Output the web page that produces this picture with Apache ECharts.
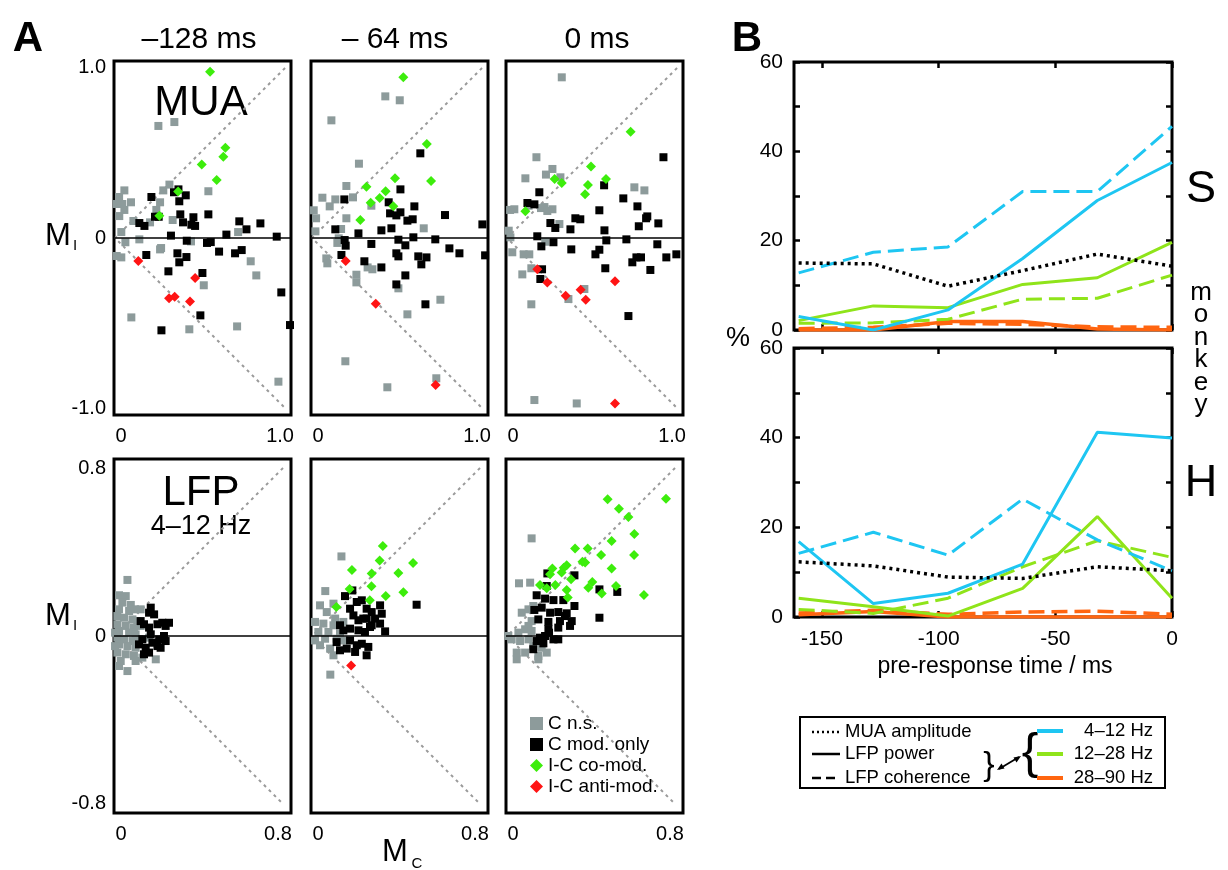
<!DOCTYPE html>
<html><head><meta charset="utf-8">
<script src="https://cdn.jsdelivr.net/npm/echarts@6/dist/echarts.min.js"></script>
<style>html,body{margin:0;padding:0;background:#fff}#c{width:1228px;height:870px}</style>
</head><body><div id="c"></div>
<script>
const FONT = '"Liberation Sans", Arial, Helvetica, sans-serif';
const C_NS = '#8d9b9b', C_MOD = '#000000', C_CO = '#3ded0c', C_ANTI = '#ff1414';
const CYAN = '#1ec6f2', LIME = '#8fe41a', ORANGE = '#ff6510';

const columnTitles = ['\u2013128 ms', '\u2013 64 ms', '0 ms'];
const legendNames = ['C n.s.', 'C mod. only', 'I-C co-mod.', 'I-C anti-mod.'];

// ---------- Panel A: MUA, -128 ms ----------
const mua128_ns = [[0.255,0.659],[0.349,0.682],[0.055,0.280],[0.024,0.241],[0.010,0.200],[0.043,0.200],[0.094,0.210],[0.055,0.165],[0.025,0.129],[0.108,0.100],[0.206,0.092],[0.339,0.106],[0.265,0.210],[0.243,0.165],[0.284,0.280],[0.320,0.314],[0.549,0.275],[0.037,0.035],[0.061,-0.025],[0.143,-0.008],[0.271,-0.059],[0.265,-0.067],[0.010,-0.106],[0.037,-0.114],[0.447,-0.020],[0.724,0.035],[0.798,-0.137],[0.831,-0.220],[0.522,-0.278],[0.096,-0.467],[0.437,-0.537],[0.718,-0.520],[0.961,-0.845]];
const mua128_mod = [[0.214,0.241],[0.347,0.269],[0.373,0.286],[0.416,0.251],[0.378,0.216],[0.384,0.139],[0.400,0.092],[0.461,0.122],[0.449,0.078],[0.471,0.071],[0.549,0.139],[0.235,0.125],[0.257,0.125],[0.143,0.088],[0.173,0.071],[0.329,0.014],[0.422,-0.016],[0.541,-0.029],[0.563,-0.024],[0.655,0.020],[0.731,0.098],[0.773,0.051],[0.855,0.086],[0.951,0.008],[0.184,-0.100],[0.367,-0.090],[0.420,-0.112],[0.378,-0.143],[0.612,-0.080],[0.706,-0.090],[0.745,-0.071],[0.314,-0.196],[0.514,-0.206],[0.978,-0.320],[1.029,-0.512],[0.502,-0.455],[0.273,-0.543]];
const mua128_co = [[0.559,0.978],[0.649,0.531],[0.637,0.478],[0.510,0.433],[0.598,0.341],[0.371,0.273],[0.261,0.131]];
const mua128_anti = [[0.137,-0.135],[0.471,-0.235],[0.318,-0.355],[0.351,-0.345],[0.441,-0.373]];

// ---------- Panel A: MUA, -64 ms ----------
const mua64_ns = [[0.431,0.833],[0.516,0.810],[0.114,0.692],[0.276,0.437],[0.202,0.306],[0.061,0.237],[0.137,0.227],[0.241,0.239],[0.104,0.186],[0.349,0.190],[0.010,0.163],[0.024,0.116],[0.202,0.116],[0.657,0.057],[0.171,0.053],[0.020,0.039],[0.157,-0.002],[0.149,-0.029],[0.084,-0.120],[0.090,-0.149],[0.327,-0.173],[0.355,-0.184],[0.261,-0.216],[0.261,-0.261],[0.508,-0.296],[0.755,-0.363],[0.561,-0.449],[0.196,-0.725],[0.443,-0.878],[0.731,-0.825]];
const mua64_mod = [[0.637,0.498],[0.520,0.286],[0.190,0.227],[0.451,0.210],[0.602,0.186],[0.459,0.145],[0.496,0.133],[0.520,0.151],[0.561,0.102],[0.592,0.110],[0.782,0.135],[1.002,0.080],[0.137,0.051],[0.273,0.027],[0.408,0.045],[0.467,0.057],[0.192,-0.012],[0.198,-0.045],[0.349,-0.035],[0.508,-0.010],[0.549,-0.043],[0.596,0.004],[0.725,-0.008],[0.808,-0.061],[0.867,-0.090],[1.018,-0.102],[0.173,-0.100],[0.308,-0.137],[0.496,-0.090],[0.508,-0.108],[0.625,-0.108],[0.673,-0.114],[0.643,-0.155],[0.408,-0.173],[0.549,-0.220],[0.496,-0.273],[0.667,-0.390]];
const mua64_co = [[0.537,0.945],[0.675,0.553],[0.488,0.351],[0.700,0.335],[0.320,0.302],[0.433,0.275],[0.398,0.235],[0.345,0.208],[0.478,0.186],[0.284,0.106]];
const mua64_anti = [[0.198,-0.135],[0.375,-0.386],[0.727,-0.865]];

// ---------- Panel A: MUA, 0 ms ----------
const mua0_ns = [[0.322,0.945],[0.173,0.475],[0.267,0.406],[0.229,0.373],[0.314,0.357],[0.108,0.351],[0.018,0.165],[0.043,0.169],[0.127,0.190],[0.200,0.176],[0.220,0.182],[0.267,0.169],[0.237,0.159],[0.308,0.082],[0.010,0.043],[0.020,0.004],[0.225,-0.022],[0.031,-0.084],[0.098,-0.096],[0.131,-0.096],[0.143,-0.178],[0.090,-0.214],[0.749,0.298],[0.808,0.280],[0.455,-0.300],[0.361,-0.359],[0.143,-0.390],[0.161,-0.953],[0.410,-0.973]];
const mua0_mod = [[0.920,0.475],[0.571,0.310],[0.190,0.269],[0.120,0.206],[0.161,0.198],[0.684,0.233],[0.767,0.186],[0.543,0.163],[0.825,0.127],[0.818,0.116],[0.890,0.086],[0.775,0.069],[0.255,0.088],[0.284,0.059],[0.402,0.116],[0.431,0.110],[0.373,0.051],[0.573,0.045],[0.178,0.010],[0.273,-0.025],[0.202,-0.049],[0.378,-0.067],[0.584,-0.014],[0.702,-0.008],[0.543,-0.069],[0.520,-0.096],[0.884,-0.037],[0.996,-0.096],[0.761,-0.114],[0.788,-0.114],[0.937,-0.114],[0.737,-0.143],[0.843,-0.188],[0.578,-0.178],[0.206,-0.184],[0.196,-0.241],[0.714,-0.459]];
const mua0_co = [[0.727,0.625],[0.494,0.420],[0.582,0.347],[0.476,0.312],[0.459,0.257],[0.280,0.347],[0.322,0.324],[0.108,0.157]];
const mua0_anti = [[0.178,-0.184],[0.237,-0.261],[0.345,-0.339],[0.433,-0.304],[0.463,-0.363],[0.635,-0.255],[0.635,-0.973]];

// ---------- Panel A: LFP 4-12 Hz, -128 ms ----------
const lfp128_ns = [[0.059,0.267],[0.019,0.194],[0.051,0.190],[0.075,0.148],[0.019,0.127],[0.067,0.119],[0.095,0.127],[0.011,0.095],[0.043,0.087],[0.083,0.079],[0.106,0.071],[0.011,0.056],[0.051,0.048],[0.090,0.040],[0.019,0.024],[0.067,0.016],[0.098,0.008],[0.011,-0.008],[0.043,-0.016],[0.083,-0.024],[0.019,-0.040],[0.059,-0.048],[0.098,-0.056],[0.011,-0.079],[0.051,-0.087],[0.090,-0.095],[0.130,-0.103],[0.027,-0.119],[0.098,-0.119],[0.194,-0.111],[0.019,-0.143],[0.059,-0.167],[0.162,-0.008],[0.114,-0.016],[0.0,0.016],[0.0,-0.048],[0.122,0.127],[0.035,0.159],[0.122,0.048]];
const lfp128_mod = [[0.170,0.135],[0.162,0.111],[0.186,0.103],[0.257,0.063],[0.241,0.048],[0.122,0.071],[0.138,0.056],[0.162,0.040],[0.202,0.056],[0.225,0.063],[0.233,0.0],[0.210,-0.016],[0.170,0.008],[0.130,-0.016],[0.178,-0.032],[0.114,-0.040],[0.146,-0.056],[0.202,-0.048],[0.241,-0.024],[0.162,-0.079],[0.138,-0.087],[0.217,-0.056]];
const lfp128_co = [];
const lfp128_anti = [];

// ---------- Panel A: LFP 4-12 Hz, -64 ms ----------
const lfp64_ns = [[0.140,0.379],[0.063,0.214],[0.038,0.146],[0.070,0.114],[0.102,0.154],[0.110,0.083],[0.014,0.067],[0.054,0.059],[0.102,0.051],[0.030,0.019],[0.078,0.019],[0.133,0.011],[0.014,-0.021],[0.062,-0.013],[0.117,-0.013],[0.149,-0.021],[0.086,-0.060],[0.102,-0.092],[0.087,-0.184],[0.038,-0.044],[0.149,0.067]];
const lfp64_mod = [[0.157,0.190],[0.192,0.217],[0.213,0.162],[0.237,0.170],[0.260,0.130],[0.284,0.114],[0.324,0.146],[0.332,0.106],[0.181,0.130],[0.197,0.098],[0.221,0.075],[0.260,0.083],[0.284,0.051],[0.324,0.059],[0.348,0.022],[0.133,0.051],[0.149,0.027],[0.181,0.035],[0.221,0.027],[0.252,0.019],[0.276,0.043],[0.498,0.149],[0.181,-0.021],[0.213,-0.044],[0.237,-0.037],[0.268,-0.052],[0.133,-0.068],[0.165,-0.060],[0.205,-0.076],[0.260,-0.092],[0.117,-0.029],[0.244,0.083],[0.300,0.083]];
const lfp64_co = [[0.337,0.429],[0.322,0.359],[0.190,0.314],[0.284,0.298],[0.411,0.300],[0.481,0.348],[0.283,0.237],[0.179,0.224],[0.351,0.190],[0.435,0.208],[0.275,0.170],[0.116,0.138]];
const lfp64_anti = [[0.186,-0.141]];

// ---------- Panel A: LFP 4-12 Hz, 0 ms ----------
const lfp0_ns = [[0.117,0.465],[0.057,0.251],[0.110,0.254],[0.070,0.111],[0.102,0.127],[0.125,0.143],[0.117,0.071],[0.102,0.048],[0.054,0.016],[0.086,0.032],[0.117,0.024],[0.022,-0.016],[0.062,-0.024],[0.102,-0.016],[0.125,-0.048],[0.165,-0.056],[0.046,-0.079],[0.086,-0.079],[0.149,-0.095],[0.189,-0.079],[0.046,-0.111],[0.149,-0.111],[0.006,0.0]];
const lfp0_mod = [[0.192,0.298],[0.321,0.289],[0.189,0.238],[0.440,0.222],[0.525,0.210],[0.440,0.087],[0.141,0.194],[0.181,0.178],[0.221,0.171],[0.268,0.171],[0.321,0.143],[0.130,0.124],[0.165,0.135],[0.205,0.111],[0.244,0.114],[0.284,0.108],[0.308,0.071],[0.252,0.071],[0.197,0.067],[0.149,0.079],[0.300,0.048],[0.244,0.040],[0.197,0.032],[0.157,-0.008],[0.181,0.0],[0.221,-0.016],[0.244,-0.016],[0.141,-0.024],[0.173,-0.035],[0.125,-0.063],[0.200,0.016],[0.276,0.095]];
const lfp0_co = [[0.479,0.651],[0.757,0.654],[0.533,0.606],[0.578,0.567],[0.498,0.452],[0.606,0.486],[0.324,0.417],[0.384,0.417],[0.448,0.386],[0.605,0.386],[0.359,0.354],[0.372,0.350],[0.284,0.337],[0.270,0.325],[0.216,0.321],[0.260,0.302],[0.205,0.294],[0.498,0.321],[0.305,0.270],[0.387,0.230],[0.406,0.257],[0.451,0.203],[0.519,0.238],[0.652,0.195],[0.157,0.243],[0.230,0.243],[0.284,0.219],[0.289,0.183],[0.189,0.227]];
const lfp0_anti = [];

// ---------- Panel B ----------
const timePoints = [-160, -128, -96, -64, -32, 0];
const xTicksB = [-150, -100, -50, 0];
// monkey S
const muaS   = [15.0, 14.8, 9.8, 13.3, 17.0, 14.3];
const pow4S  = [3.0, 0.0, 4.5, 16.0, 29.0, 37.5];
const coh4S  = [12.8, 17.4, 18.6, 31.0, 31.0, 45.6];
const pow12S = [2.1, 5.4, 5.0, 10.2, 11.7, 19.6];
const coh12S = [1.5, 1.6, 2.4, 6.9, 7.1, 12.3];
const pow28S = [0.0, 0.0, 1.9, 1.9, 0.2, 0.0];
const coh28S = [0.3, 0.6, 1.5, 1.3, 0.7, 0.6];
// monkey H
const muaH   = [12.3, 11.4, 8.9, 8.6, 11.2, 10.3];
const pow4H  = [16.8, 3.0, 5.3, 11.8, 41.2, 39.9];
const coh4H  = [14.2, 18.9, 13.8, 26.3, 17.2, 10.3];
const pow12H = [4.2, 2.3, 0.2, 6.4, 22.4, 4.2];
const coh12H = [1.7, 0.8, 4.2, 11.2, 17.0, 13.3];
const pow28H = [0.5, 1.2, 0.0, 0.0, 0.0, 0.0];
const coh28H = [0.9, 1.5, 0.6, 1.1, 1.3, 0.6];

// ================= build =================
const scatterPanels = [
  {ns: mua128_ns, mod: mua128_mod, co: mua128_co, anti: mua128_anti, row: 0, col: 0},
  {ns: mua64_ns,  mod: mua64_mod,  co: mua64_co,  anti: mua64_anti,  row: 0, col: 1},
  {ns: mua0_ns,   mod: mua0_mod,   co: mua0_co,   anti: mua0_anti,   row: 0, col: 2},
  {ns: lfp128_ns, mod: lfp128_mod, co: lfp128_co, anti: lfp128_anti, row: 1, col: 0},
  {ns: lfp64_ns,  mod: lfp64_mod,  co: lfp64_co,  anti: lfp64_anti,  row: 1, col: 1},
  {ns: lfp0_ns,   mod: lfp0_mod,   co: lfp0_co,   anti: lfp0_anti,   row: 1, col: 2}
];
const colLeft = [114, 311, 506];
const rowTop = [61, 459];
const GW = 177, GH = 354;

const grids = [], xAxes = [], yAxes = [], series = [];

scatterPanels.forEach((p, i) => {
  const top = p.row === 0;
  const lim = top ? 1.0 : 0.8;
  const limTxt = top ? '1.0' : '0.8';
  const xr = top ? [-0.006, 1.035] : [-0.005, 0.838];
  const yr = top ? 1.041 : 0.843;
  grids.push({left: colLeft[p.col], top: rowTop[p.row], width: GW, height: GH,
    show: true, borderColor: '#000', borderWidth: 3, backgroundColor: 'transparent'});
  xAxes.push({type: 'value', gridIndex: i, min: xr[0], max: xr[1],
    axisLine: {show: false, onZero: false}, axisTick: {show: false}, splitLine: {show: false},
    axisLabel: {show: true, customValues: [0, lim], margin: 11, color: '#000',
      fontSize: 20, fontFamily: FONT,
      formatter: v => v === 0 ? '{l|0}' : '{r|' + limTxt + '}',
      rich: {l: {fontSize: 20, fontFamily: FONT, color: '#000', padding: [0, 0, 0, 12]},
             r: {fontSize: 20, fontFamily: FONT, color: '#000', padding: [0, 10, 0, 0]}}}});
  yAxes.push({type: 'value', gridIndex: i, min: -yr, max: yr,
    axisLine: {show: false, onZero: false}, axisTick: {show: false}, splitLine: {show: false},
    axisLabel: {show: p.col === 0, customValues: [-lim, 0, lim], margin: 8, color: '#000',
      fontSize: 20, fontFamily: FONT,
      formatter: v => v > 0 ? limTxt : (v < 0 ? '-' + limTxt : '0')}});
  series.push({type: 'line', xAxisIndex: i, yAxisIndex: i, name: 'diag' + i,
    data: [[lim, lim], [0, 0], [lim, -lim]], symbol: 'none', silent: true, z: 1,
    lineStyle: {color: '#9a9a9a', width: 2, type: [3, 4]},
    markLine: {silent: true, symbol: 'none', label: {show: false}, animation: false,
      lineStyle: {color: '#000', width: 1.6, type: 'solid'}, data: [{yAxis: 0}]}});
  const kinds = [[p.ns, 'rect', 8, C_NS, 0], [p.mod, 'rect', 8, C_MOD, 1],
                 [p.co, 'diamond', 10, C_CO, 2], [p.anti, 'diamond', 10, C_ANTI, 3]];
  kinds.forEach(([d, sym, sz, col, k]) => {
    series.push({type: 'scatter', name: legendNames[k], xAxisIndex: i, yAxisIndex: i,
      data: d, symbol: sym, symbolSize: sz, itemStyle: {color: col, opacity: 1}, z: 2 + k});
  });
});

// Panel B grids
const bGrids = [{left: 794, top: 62, width: 378, height: 268}, {left: 794, top: 348, width: 378, height: 269}];
const bSets = [
  {mua: muaS, p4: pow4S, c4: coh4S, p12: pow12S, c12: coh12S, p28: pow28S, c28: coh28S},
  {mua: muaH, p4: pow4H, c4: coh4H, p12: pow12H, c12: coh12H, p28: pow28H, c28: coh28H}
];
const DASH = [16, 7], DOT = [3, 4];
bGrids.forEach((g, j) => {
  const gi = 6 + j;
  grids.push(Object.assign({show: true, borderColor: '#000', borderWidth: 3, backgroundColor: 'transparent'}, g));
  const tk = (extra) => Object.assign({show: true, inside: true, length: 6,
      lineStyle: {color: '#000', width: 2.5}}, extra || {});
  const xi = xAxes.length;
  xAxes.push({type: 'value', gridIndex: gi, min: -162, max: 0, position: 'bottom',
    axisLine: {show: false, onZero: false}, splitLine: {show: false},
    axisTick: tk({customValues: xTicksB}),
    axisLabel: {show: j === 1, customValues: xTicksB, margin: 12, color: '#000', fontSize: 21, fontFamily: FONT}});
  xAxes.push({type: 'value', gridIndex: gi, min: -162, max: 0, position: 'top',
    axisLine: {show: false, onZero: false}, splitLine: {show: false},
    axisTick: tk({customValues: xTicksB}), axisLabel: {show: false}});
  const yi = yAxes.length;
  yAxes.push({type: 'value', gridIndex: gi, min: 0, max: 60, interval: 10, position: 'left',
    axisLine: {show: false, onZero: false}, splitLine: {show: false}, axisTick: tk(),
    axisLabel: {show: true, margin: 11, color: '#000', fontSize: 21, fontFamily: FONT,
      formatter: v => (v % 20 === 0 ? String(v) : '')}});
  yAxes.push({type: 'value', gridIndex: gi, min: 0, max: 60, interval: 10, position: 'right',
    axisLine: {show: false, onZero: false}, splitLine: {show: false}, axisTick: tk(), axisLabel: {show: false}});
  const s = bSets[j];
  const mk = (name, vals, color, width, type, z) => ({
    type: 'line', name: name + j, xAxisIndex: xi, yAxisIndex: yi, symbol: 'none', z: z,
    data: timePoints.map((t, k) => [t, vals[k]]),
    lineStyle: {color: color, width: width, type: type}});
  series.push(mk('p28', s.p28, ORANGE, 3.5, 'solid', 3));
  series.push(mk('c28', s.c28, ORANGE, 3.5, DASH, 3));
  series.push(mk('p12', s.p12, LIME, 3, 'solid', 4));
  series.push(mk('c12', s.c12, LIME, 3, DASH, 4));
  series.push(mk('p4', s.p4, CYAN, 3, 'solid', 5));
  series.push(mk('c4', s.c4, CYAN, 3, DASH, 5));
  series.push(mk('mua', s.mua, '#000', 3.5, DOT, 6));
});

// ---------- graphic texts & legend box ----------
const T = (text, x, y, size, opts) => Object.assign({type: 'text', x: x, y: y, silent: true,
  style: Object.assign({text: text, fontSize: size, fontFamily: FONT, fill: '#000',
    align: 'center', verticalAlign: 'middle'}, (opts || {}))});
const L = (x1, y1, x2, y2, color, width, dash) => ({type: 'line', silent: true,
  shape: {x1: x1, y1: y1, x2: x2, y2: y2},
  style: {stroke: color, lineWidth: width, lineDash: dash || null}});

const graphics = [
  T('A', 28, 39, 42, {fontWeight: 'bold'}),
  T('B', 747, 39, 42, {fontWeight: 'bold'}),
  T(columnTitles[0], 199, 40, 30),
  T(columnTitles[1], 395, 40, 30),
  T(columnTitles[2], 597, 40, 30),
  T('MUA', 201, 103, 42),
  T('LFP', 201, 493, 42),
  T('4\u201312 Hz', 201, 527, 27),
  T('M', 58, 236, 31),
  T('I', 75, 246, 15),
  T('M', 58, 616, 31),
  T('I', 75, 626, 15),
  T('M', 395, 852, 31),
  T('C', 417, 864, 15),
  T('%', 738, 339, 27),
  T('pre-response time / ms', 995, 667, 23),
  T('S', 1201, 190, 45),
  T('H', 1201, 484, 45),
  T('m\no\nn\nk\ne\ny', 1201, 349, 26, {lineHeight: 22.5}),
  // legend box for panel B
  {type: 'rect', silent: true, shape: {x: 800, y: 717, width: 365, height: 71},
   style: {fill: 'none', stroke: '#000', lineWidth: 2}},
  L(812, 732, 840, 732, '#000', 2.5, [2, 3]),
  L(812, 754, 840, 754, '#000', 2.5),
  L(812, 778, 840, 778, '#000', 2.5, [9, 5]),
  T('MUA amplitude', 845, 732, 18.5, {align: 'left'}),
  T('LFP power', 845, 754, 18.5, {align: 'left'}),
  T('LFP coherence', 845, 778, 18.5, {align: 'left'}),
  T('}', 989, 766, 34),
  T('{', 1030, 754, 50),
  L(999, 769, 1019, 757, '#000', 1.8),
  {type: 'polygon', silent: true, shape: {points: [[1021, 756], [1013.5, 757.5], [1016.5, 762.5]]}, style: {fill: '#000'}},
  {type: 'polygon', silent: true, shape: {points: [[997, 770], [1004.5, 768.5], [1001.5, 763.5]]}, style: {fill: '#000'}},
  L(1037, 731, 1063, 731, CYAN, 4),
  L(1037, 754, 1063, 754, LIME, 4),
  L(1037, 778, 1063, 778, ORANGE, 4),
  T('4\u201312 Hz', 1153, 731, 18.5, {align: 'right'}),
  T('12\u201328 Hz', 1153, 754, 18.5, {align: 'right'}),
  T('28\u201390 Hz', 1153, 778, 18.5, {align: 'right'})
];

const chart = echarts.init(document.getElementById('c'), null, {renderer: 'canvas'});
chart.setOption({
  animation: false,
  backgroundColor: '#fff',
  textStyle: {fontFamily: FONT},
  grid: grids,
  xAxis: xAxes,
  yAxis: yAxes,
  legend: {
    show: true, orient: 'vertical', left: 525, top: 709, itemWidth: 13, itemHeight: 13,
    itemGap: 2, itemTextGap: 11, selectedMode: false,
    textStyle: {fontSize: 19, color: '#000', fontFamily: FONT},
    data: [{name: legendNames[0], icon: 'rect'}, {name: legendNames[1], icon: 'rect'},
           {name: legendNames[2], icon: 'diamond'}, {name: legendNames[3], icon: 'diamond'}]
  },
  series: series,
  graphic: graphics
});
</script>
</body></html>
